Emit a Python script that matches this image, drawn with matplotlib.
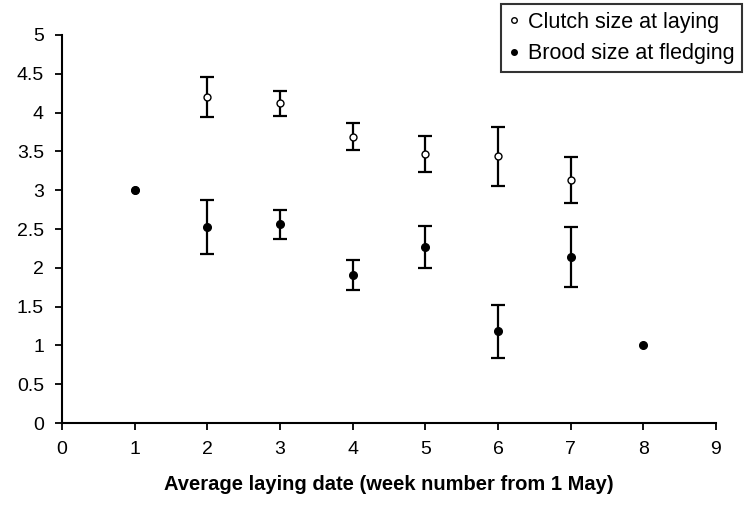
import matplotlib
matplotlib.use("Agg")
import matplotlib.pyplot as plt
from matplotlib.lines import Line2D

plt.rcParams['font.family'] = ['Liberation Sans', 'DejaVu Sans']

clutch_x = [1, 2, 3, 4, 5, 6, 7]
clutch_y = [3.0, 4.2, 4.12, 3.69, 3.47, 3.44, 3.13]
clutch_err = [0.0, 0.26, 0.16, 0.17, 0.23, 0.38, 0.30]
brood_x = [1, 2, 3, 4, 5, 6, 7, 8]
brood_y = [3.0, 2.53, 2.56, 1.91, 2.27, 1.18, 2.14, 1.0]
brood_err = [0.0, 0.35, 0.19, 0.19, 0.27, 0.34, 0.39, 0.0]

xticks = list(range(0, 10))
yticks = [0, 0.5, 1, 1.5, 2, 2.5, 3, 3.5, 4, 4.5, 5]
ytick_labels = ['0', '0.5', '1', '1.5', '2', '2.5', '3', '3.5', '4', '4.5', '5']

fig = plt.figure(figsize=(7.44, 5.12), dpi=100)
ax = fig.add_axes([62/744, 1-423/512, (716-62)/744, (423-35)/512])

def draw(xs, ys, errs, filled, ms, z):
    ex = [x for x, e in zip(xs, errs) if e > 0]
    ey = [y for y, e in zip(ys, errs) if e > 0]
    ee = [e for e in errs if e > 0]
    ax.errorbar(ex, ey, yerr=ee, fmt='none', ecolor='black', elinewidth=1.6,
                capsize=5, capthick=1.6, zorder=z)
    ax.plot(xs, ys, 'o', mfc='black' if filled else 'white', mec='black',
            mew=1.0, ms=ms, linestyle='none', zorder=z + 1)

draw(clutch_x, clutch_y, clutch_err, False, 5, 3)
draw(brood_x, brood_y, brood_err, True, 5.5, 5)

ax.set_xlim(0, 9)
ax.set_ylim(0, 5)
ax.set_xticks(xticks)
ax.set_yticks(yticks)
ax.set_yticklabels(ytick_labels)
for s in ['top', 'right']:
    ax.spines[s].set_visible(False)
for s in ['left', 'bottom']:
    ax.spines[s].set_linewidth(1.5)
ax.tick_params(axis='both', direction='out', length=5, width=1.3, labelsize=14)
ax.tick_params(axis='x', pad=8)
ax.tick_params(axis='y', pad=8)

ax.set_xlabel('Average laying date (week number from 1 May)', fontsize=14.5,
              fontweight='bold', labelpad=12)

handles = [
    Line2D([], [], marker='o', linestyle='none', mfc='white', mec='black', ms=4),
    Line2D([], [], marker='o', linestyle='none', mfc='black', mec='black', ms=4),
]
labels = ['Clutch size at laying', 'Brood size at fledging']
leg = fig.legend(handles, labels, loc='upper right', bbox_to_anchor=(742/744, 1-4/512),
                 frameon=True, fancybox=False, shadow=False, fontsize=15.5,
                 handlelength=0.5, handletextpad=0.4, borderpad=0.35, labelspacing=0.5,
                 borderaxespad=0)
leg.get_frame().set_edgecolor('black')
leg.get_frame().set_linewidth(1.5)

fig.savefig('out.png', dpi=100)
